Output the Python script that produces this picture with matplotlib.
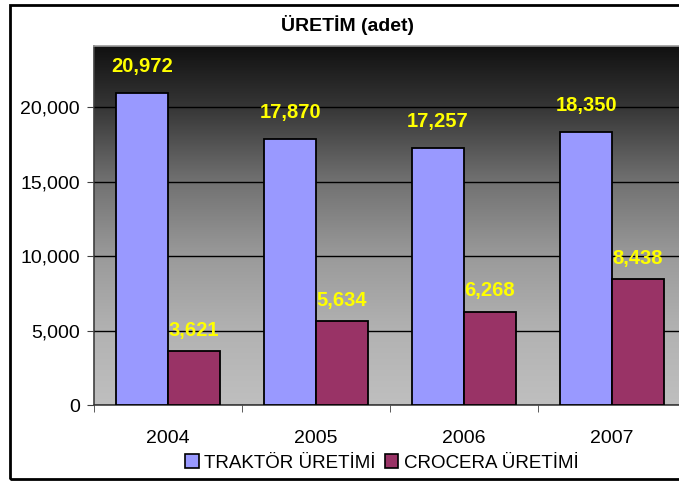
import numpy as np
import matplotlib.pyplot as plt
from matplotlib.colors import LinearSegmentedColormap
from matplotlib.patches import Rectangle, Patch

plt.rcParams['font.family'] = ['Liberation Sans', 'DejaVu Sans']

years = ["2004", "2005", "2006", "2007"]
traktor = [20972, 17870, 17257, 18350]
crocera = [3621, 5634, 6268, 8438]
series_names = ["TRAKTÖR ÜRETİMİ", "CROCERA ÜRETİMİ"]
title = "ÜRETİM (adet)"

fig = plt.figure(figsize=(6.79, 4.83), dpi=100)

# outer chart border (right side runs off the picture)
fig.patches.append(Rectangle((10 / 679, 4 / 483), 1.2, 474 / 483,
                             transform=fig.transFigure, fill=False,
                             edgecolor="black", linewidth=2))

ax = fig.add_axes([94 / 679, 78 / 483, 592 / 679, 359 / 483])

# gradient plot background
grad = LinearSegmentedColormap.from_list("bg", [
    (0.0, "#111111"), (0.17, "#363636"), (0.376, "#717171"),
    (0.585, "#9a9a9a"), (0.794, "#b2b2b2"), (1.0, "#bfbfbf")])
ax.imshow(np.linspace(0, 1, 256).reshape(-1, 1), cmap=grad, aspect="auto",
          extent=[0, 1, 0, 1], origin="upper", transform=ax.transAxes, zorder=0)

x = np.arange(len(years))
w = 0.35
b1 = ax.bar(x - w / 2, traktor, w, color="#9999ff", edgecolor="black",
            linewidth=1.3, zorder=3, label=series_names[0])
b2 = ax.bar(x + w / 2, crocera, w, color="#993366", edgecolor="black",
            linewidth=1.3, zorder=3, label=series_names[1])

for bars, vals, off in [(b1, traktor, 19), (b2, crocera, 15)]:
    for bar, v in zip(bars, vals):
        ax.annotate(f"{v:,}", (bar.get_x() + bar.get_width() / 2, v),
                    xytext=(0, off), textcoords="offset points",
                    ha="center", va="center", color="#ffff00",
                    fontsize=14.5, fontweight="bold", zorder=4)

ax.set_xlim(-0.5, 3.5)
ax.set_ylim(0, 24100)
ax.set_yticks(range(0, 20001, 5000))
ax.set_yticklabels([f"{v:,}" for v in range(0, 20001, 5000)], fontsize=14)
ax.yaxis.grid(True, color="black", linewidth=1, zorder=1)
ax.set_axisbelow(False)
for gl in ax.get_ygridlines():
    gl.set_zorder(1)

ax.set_xticks(x)
ax.set_xticklabels(years, fontsize=14)
ax.set_xticks(np.arange(-0.5, 3.6, 1), minor=True)
ax.tick_params(axis="x", which="major", length=0, pad=18)
ax.tick_params(axis="x", which="minor", length=5, direction="out", color="#404040")
ax.tick_params(axis="y", length=5, direction="out", pad=5, color="#404040")

for s in ["left", "bottom"]:
    ax.spines[s].set_color("#404040")
    ax.spines[s].set_linewidth(1.2)
for s in ["top", "right"]:
    ax.spines[s].set_color("#9a9a9a")
    ax.spines[s].set_linewidth(1.2)

fig.text(348 / 679, 1 - 25 / 483, title, ha="center", va="center",
         fontsize=14, fontweight="bold")

handles = [Patch(facecolor="#9999ff", edgecolor="black", linewidth=1.2),
           Patch(facecolor="#993366", edgecolor="black", linewidth=1.2)]
fig.legend(handles, series_names, loc="center",
           bbox_to_anchor=(382 / 679, 1 - 463 / 483), ncol=2, frameon=False,
           fontsize=13.5, handlelength=0.7, handleheight=0.7,
           handletextpad=0.3, columnspacing=0.5, borderpad=0)

fig.savefig("out.png", dpi=100)
